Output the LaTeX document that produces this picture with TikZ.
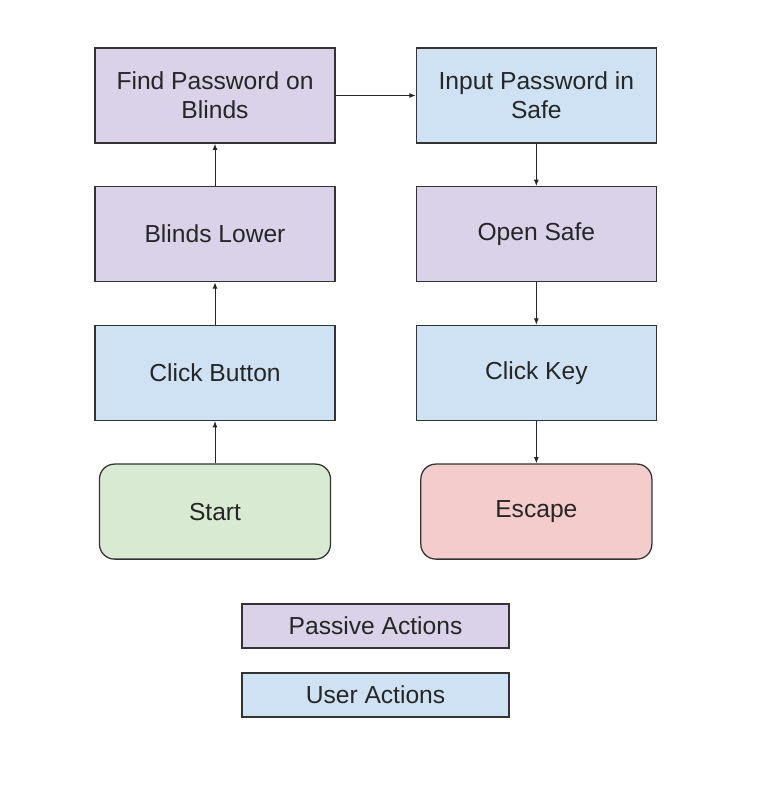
\documentclass[tikz,border=0pt]{standalone}
\usepackage{fontspec}
\setmainfont{Liberation Sans}
\usetikzlibrary{positioning,arrows.meta}
\definecolor{passivefill}{HTML}{D9D2E9}
\definecolor{userfill}{HTML}{CFE2F3}
\definecolor{startfill}{HTML}{D9EAD3}
\definecolor{escapefill}{HTML}{F4CCCC}
\tikzset{
  box/.style = {draw = black!80, line width = 0.9pt, inner sep = 0pt, align = center,
    minimum width = 6cm, minimum height = 2.375cm, text = black!85,
    font = \fontsize{17.5}{20.6}\selectfont},
  passive/.style = {box, fill = passivefill},
  user/.style = {box, fill = userfill},
  ends/.style = {box, rounded corners = 0.375cm, minimum width = 5.775cm},
  legend/.style = {box, minimum width = 6.675cm, minimum height = 1.1cm},
  flow/.style = {-{Latex[length = 4.5pt, width = 3.5pt]}, line width = 0.7pt, black!85}
}
\begin{document}
\begin{tikzpicture}[node distance = 1.06cm and 2.0cm, x = 0.025cm, y = -0.025cm]
  \useasboundingbox (0, 0) rectangle (770, 786);

  \node[passive] (find) at (215, 95.5) {Find Password on\\Blinds};
  \node[passive, below = of find] (lower) {Blinds Lower};
  \node[user, below = of lower] (button) {Click Button};
  \node[ends, fill = startfill, below = of button] (start) {Start};
  \node[user, right = of find] (input) {Input Password in\\Safe};
  \node[passive, below = of input] (open) {Open Safe};
  \node[user, below = of open] (key) {Click Key};
  \node[ends, fill = escapefill, below = of key] (escape) {Escape};

  \node[legend, fill = passivefill] (passivekey) at (375.5, 626) {Passive Actions};
  \node[legend, fill = userfill] (userkey) at (375.5, 695) {User Actions};

  \draw[flow] (start) to (button);
  \draw[flow] (button) to (lower);
  \draw[flow] (lower) to (find);
  \draw[flow] (find) to (input);
  \draw[flow] (input) to (open);
  \draw[flow] (open) to (key);
  \draw[flow] (key) to (escape);
\end{tikzpicture}
\end{document}
